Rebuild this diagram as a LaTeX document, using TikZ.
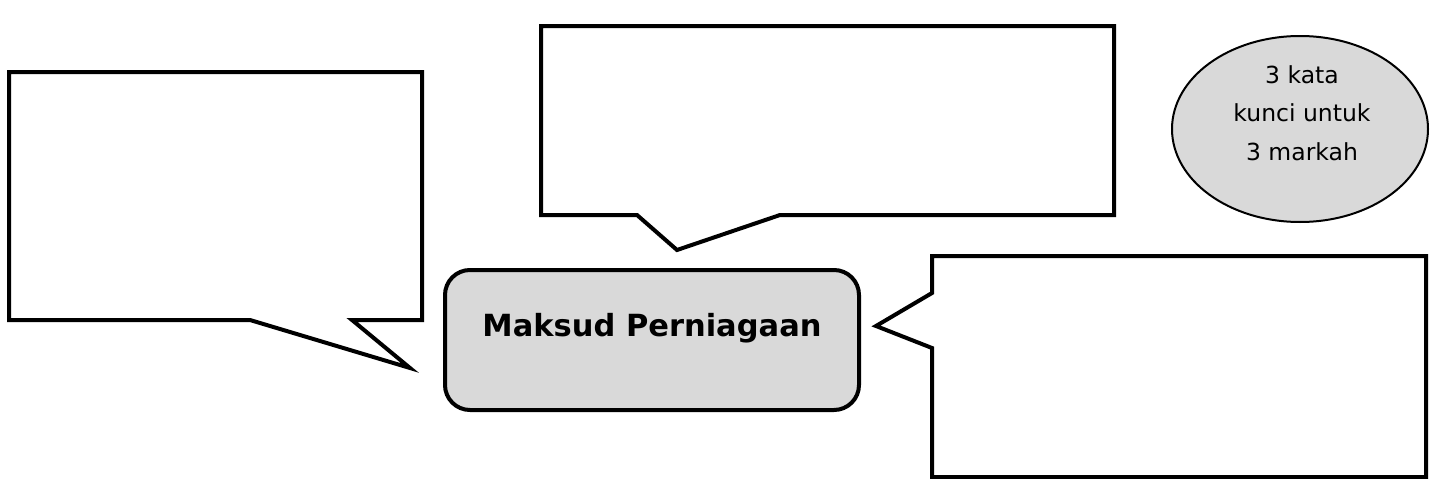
\documentclass[tikz,border=0pt]{standalone}
\usepackage{fontspec}
\setmainfont{DejaVu Sans}
\usetikzlibrary{shapes.geometric}
\definecolor{boxgrey}{HTML}{D9D9D9}
\tikzset{
  bubble/.style={draw=black, line width=4pt, fill=white, line join=miter},
  mainbox/.style={draw=black, line width=4pt, fill=boxgrey, rounded corners=25pt},
  hint/.style={ellipse, draw=black, line width=2pt, fill=boxgrey, minimum width=256pt, minimum height=186pt, inner sep=0pt},
}
\begin{document}
\begin{tikzpicture}[x=1pt, y=-1pt]
\useasboundingbox (0,0) rectangle (1436,479);
% left callout
\draw[bubble] (9,72) coordinate (L1) -- (422,72) -- (422,320) -- (352,320) -- (410,368) coordinate (Ltip) -- (250,320) -- (9,320) -- cycle;
% top callout
\draw[bubble] (541,26) coordinate (T1) -- (1114,26) -- (1114,215) -- (780,215) -- (677,250) coordinate (Ttip) -- (637,215) -- (541,215) -- cycle;
% right callout
\draw[bubble] (932,256) coordinate (R1) -- (1426,256) -- (1426,477) -- (932,477) -- (932,348) -- (876,326) coordinate (Rtip) -- (932,293) -- cycle;
% central box
\draw[mainbox] (445,270) rectangle (859,410);
\node[font=\fontsize{30.5}{36}\selectfont\bfseries] (main) at (652,328) {Maksud Perniagaan};
% ellipse
\node[hint] (hint) at (1300,129) {};
\node[align=center, font=\fontsize{23.5}{38.5}\selectfont] (hinttext) at (1302,113) {3 kata\\kunci untuk\\3 markah};
\end{tikzpicture}
\end{document}
